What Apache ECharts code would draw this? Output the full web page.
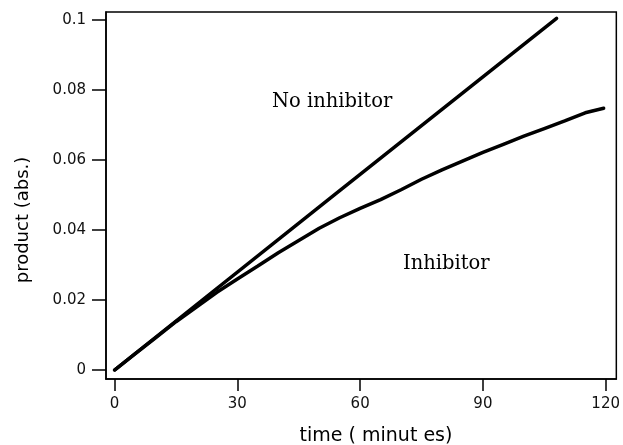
<!DOCTYPE html>
<html>
<head>
<meta charset="utf-8">
<script src="https://cdn.jsdelivr.net/npm/echarts@6/dist/echarts.min.js"></script>
<style>html,body{margin:0;padding:0;background:#fff}#c{width:623px;height:445px}</style>
</head>
<body>
<div id="c"></div>
<script>
// time (minutes) and product (abs.) values
const noInhibitorTime = [0, 54, 108];
const noInhibitorProduct = [0, 0.0503, 0.1005];
const inhibitorTime = [0, 5, 10, 15, 20, 25, 30, 35, 40, 45, 50, 55, 60, 65, 70, 75, 80, 85, 90, 95, 100, 105, 110, 115, 119.5];
const inhibitorProduct = [0, 0.0046, 0.0092, 0.0138, 0.0180, 0.0222, 0.0260, 0.0297, 0.0335, 0.0370, 0.0405, 0.0435, 0.0462, 0.0487, 0.0515, 0.0545, 0.0572, 0.0597, 0.0622, 0.0645, 0.0668, 0.0690, 0.0712, 0.0735, 0.0748];
const xTicks = [0, 30, 60, 90, 120];
const yTicks = [0, 0.02, 0.04, 0.06, 0.08, 0.1];
const labels = { noInhibitor: 'No inhibitor', inhibitor: 'Inhibitor', xTitle: 'time ( minut es)', yTitle: 'product (abs.)' };

const zip = (a, b) => a.map((v, i) => [v, b[i]]);
const chart = echarts.init(document.getElementById('c'), null, { renderer: 'canvas' });
const sans = '"DejaVu Sans", sans-serif';
const serif = '"DejaVu Serif", serif';
chart.setOption({
  animation: false,
  backgroundColor: '#fff',
  grid: { left: 106, top: 12, right: 6, bottom: 66, show: true, borderColor: '#000', borderWidth: 1.5, backgroundColor: 'transparent' },
  xAxis: {
    type: 'value', min: -2.1, max: 122.6,
    axisLine: { show: true, onZero: false, lineStyle: { color: '#000', width: 1.5 } },
    axisTick: { show: true, length: 12, customValues: xTicks, lineStyle: { color: '#000', width: 1.5 } },
    axisLabel: { customValues: xTicks, color: '#111', fontFamily: sans, fontSize: 15, margin: 18 },
    splitLine: { show: false }
  },
  yAxis: {
    type: 'value', min: -0.00257, max: 0.1023,
    axisLine: { show: true, onZero: false, lineStyle: { color: '#000', width: 1.5 } },
    axisTick: { show: true, length: 14, customValues: yTicks, lineStyle: { color: '#000', width: 1.5 } },
    axisLabel: { customValues: yTicks, color: '#111', fontFamily: sans, fontSize: 15, margin: 20,
      formatter: v => String(+v.toFixed(4)) },
    splitLine: { show: false }
  },
  series: [
    { type: 'line', name: labels.noInhibitor, data: zip(noInhibitorTime, noInhibitorProduct), showSymbol: false,
      lineStyle: { color: '#000', width: 3.5, cap: 'round' } },
    { type: 'line', name: labels.inhibitor, data: zip(inhibitorTime, inhibitorProduct), showSymbol: false,
      lineStyle: { color: '#000', width: 3.5, cap: 'round' } }
  ],
  graphic: [
    { type: 'text', left: 272, top: 92, style: { text: labels.noInhibitor, font: '19.5px ' + serif, fill: '#000' } },
    { type: 'text', left: 403, top: 254, style: { text: labels.inhibitor, font: '19.5px ' + serif, fill: '#000' } },
    { type: 'text', x: 376, y: 436, style: { text: labels.xTitle, font: '19px ' + sans, fill: '#000', align: 'center', verticalAlign: 'middle' } },
    { type: 'text', x: 23, y: 220, rotation: Math.PI / 2, style: { text: labels.yTitle, font: '18px ' + sans, fill: '#000', align: 'center', verticalAlign: 'middle' } }
  ]
});
</script>
</body>
</html>
